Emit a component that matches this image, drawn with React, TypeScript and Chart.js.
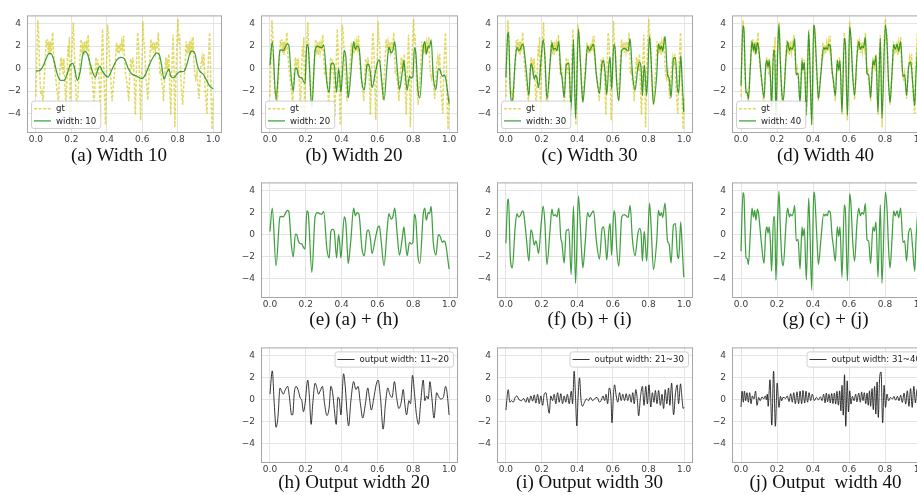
import React, { useEffect, useRef } from "react";
import { Chart, registerables } from "chart.js";
Chart.register(...registerables);

// ---------- tick labels / axis ranges ----------
const X_TICKS = [0, 0.2, 0.4, 0.6, 0.8, 1.0];
const Y_TICKS = [-4, -2, 0, 2, 4];
const X_MIN = -0.05, X_MAX = 1.05, Y_MIN = -5.72, Y_MAX = 4.72;

// ---------- series (x, y) ----------
const gt = [[0,-2.5],[0.006,1.5],[0.011,4.3],[0.016,3.0],[0.022,-0.5],[0.028,-2.3],[0.034,-2.0],[0.041,-3.0],[0.047,-1.0],[0.052,0.3],[0.058,2.5],[0.062,2.0],[0.066,2.6],[0.07,1.4],[0.074,2.4],[0.079,1.2],[0.083,2.4],[0.087,1.5],[0.091,2.6],[0.095,3.2],[0.099,1.5],[0.106,0.0],[0.113,-1.0],[0.12,-2.0],[0.127,-3.0],[0.133,-1.0],[0.138,0.4],[0.142,1.0],[0.146,0.0],[0.15,0.8],[0.154,-0.6],[0.158,0.9],[0.163,-0.9],[0.17,-3.6],[0.176,-0.5],[0.181,2.0],[0.185,1.0],[0.189,2.8],[0.194,-4.2],[0.2,0.5],[0.205,2.0],[0.211,4.1],[0.216,2.0],[0.222,-0.5],[0.228,-2.8],[0.235,-3.0],[0.242,-1.0],[0.25,1.2],[0.255,2.6],[0.26,1.3],[0.265,2.3],[0.27,1.2],[0.275,2.4],[0.28,1.5],[0.285,2.2],[0.29,1.6],[0.295,3.0],[0.3,1.0],[0.306,-0.6],[0.312,0.0],[0.318,-0.8],[0.328,-3.3],[0.334,-1.0],[0.339,1.0],[0.344,-0.4],[0.349,0.8],[0.353,0.2],[0.358,-1.5],[0.363,-4.3],[0.37,0.5],[0.376,3.5],[0.382,0.5],[0.387,-2.0],[0.393,-5.0],[0.399,0.0],[0.404,3.9],[0.409,3.2],[0.415,1.0],[0.422,-0.8],[0.43,-2.9],[0.437,-1.5],[0.444,-0.3],[0.45,1.0],[0.455,2.3],[0.46,1.4],[0.465,2.1],[0.47,1.3],[0.475,2.2],[0.48,1.5],[0.485,2.4],[0.49,1.8],[0.495,2.9],[0.5,1.0],[0.506,-0.5],[0.513,-1.2],[0.519,-2.0],[0.524,-2.9],[0.53,-0.5],[0.535,0.9],[0.539,0.0],[0.543,0.3],[0.547,1.0],[0.551,0.3],[0.556,-1.5],[0.561,-4.1],[0.567,0.0],[0.574,3.2],[0.58,2.0],[0.585,-1.0],[0.591,-4.6],[0.597,-0.5],[0.604,4.2],[0.608,2.5],[0.613,2.0],[0.62,-0.8],[0.626,-1.5],[0.631,-2.8],[0.637,-1.0],[0.644,1.2],[0.649,2.6],[0.654,1.6],[0.659,2.3],[0.664,1.4],[0.669,2.3],[0.674,1.5],[0.68,2.4],[0.685,1.8],[0.691,3.2],[0.696,1.0],[0.7,-0.5],[0.705,0.0],[0.709,-1.0],[0.715,-1.6],[0.72,-2.9],[0.727,-0.5],[0.733,1.0],[0.737,0.0],[0.741,0.5],[0.746,-0.2],[0.75,1.3],[0.755,-1.5],[0.761,-4.1],[0.768,0.5],[0.774,3.0],[0.779,0.0],[0.784,-5.2],[0.79,-1.0],[0.796,2.5],[0.802,4.4],[0.807,2.2],[0.811,3.0],[0.816,0.0],[0.82,-1.5],[0.828,-3.2],[0.834,-1.5],[0.839,-0.5],[0.844,1.0],[0.848,2.4],[0.853,1.3],[0.858,2.2],[0.863,1.4],[0.867,2.4],[0.872,1.2],[0.876,2.3],[0.881,1.8],[0.887,2.8],[0.892,0.5],[0.897,-0.5],[0.902,-0.9],[0.909,-0.3],[0.914,-1.5],[0.92,-2.7],[0.926,-1.0],[0.931,0.3],[0.937,1.0],[0.943,0.2],[0.948,1.3],[0.954,-1.6],[0.96,-3.0],[0.965,-4.0],[0.97,-0.5],[0.975,1.5],[0.98,3.2],[0.985,0.5],[0.99,-3.5],[0.995,-5.4],[1.0,-2.5]];

const w10 = [[0,-0.2],[0.019,-0.2],[0.037,0.1],[0.056,0.8],[0.075,1.35],[0.088,1.3],[0.103,0.65],[0.121,-0.5],[0.14,-1.05],[0.159,-1.05],[0.174,-0.6],[0.196,0.37],[0.209,0.45],[0.219,-0.05],[0.234,-1.05],[0.249,-0.35],[0.267,1.35],[0.28,1.5],[0.293,1.2],[0.312,0.08],[0.336,-0.76],[0.35,-0.06],[0.361,0.22],[0.374,-0.2],[0.393,-0.62],[0.406,-0.76],[0.43,-0.06],[0.458,0.8],[0.48,1.0],[0.5,0.85],[0.523,-0.06],[0.542,-0.48],[0.57,-0.68],[0.598,-0.9],[0.617,-0.56],[0.641,0.37],[0.664,1.07],[0.682,1.4],[0.697,1.2],[0.71,0.22],[0.723,-0.95],[0.735,-0.5],[0.75,-0.05],[0.762,-0.7],[0.776,-0.82],[0.795,-0.5],[0.813,-0.28],[0.835,-0.26],[0.852,0.37],[0.869,1.35],[0.882,1.58],[0.897,1.35],[0.91,0.37],[0.922,-0.17],[0.946,-0.55],[0.963,-1.05],[0.981,-1.55],[1.0,-1.79]];

const w20 = [[0,0.29],[0.013,2.4],[0.034,-2.8],[0.056,1.6],[0.065,1.65],[0.075,1.6],[0.084,1.85],[0.097,2.2],[0.105,2.1],[0.12,-1.0],[0.13,-2.0],[0.142,0.05],[0.15,0.0],[0.159,-0.6],[0.168,-0.8],[0.178,-0.83],[0.187,-1.15],[0.196,-1.3],[0.206,2.15],[0.213,2.0],[0.234,-3.4],[0.252,1.6],[0.265,2.0],[0.277,1.9],[0.29,1.85],[0.3,2.1],[0.318,-1.3],[0.331,-2.1],[0.34,0.3],[0.35,0.5],[0.359,0.3],[0.372,-2.1],[0.383,0],[0.389,-0.7],[0.396,-2.1],[0.415,1.6],[0.424,1.0],[0.434,-2.0],[0.437,-2.6],[0.452,-0.4],[0.467,2.4],[0.477,1.7],[0.486,2.0],[0.497,1.85],[0.514,-1.3],[0.527,-1.9],[0.542,0.3],[0.551,0.4],[0.561,-0.4],[0.57,-1.7],[0.589,-0.3],[0.604,0.7],[0.611,0.77],[0.62,-0.4],[0.637,-2.8],[0.654,0.4],[0.664,1.9],[0.677,1.4],[0.686,1.6],[0.697,2.4],[0.71,0.14],[0.723,-1.85],[0.738,-0.43],[0.748,0.7],[0.753,0],[0.766,-1.9],[0.779,-0.7],[0.789,-0.85],[0.798,-0.7],[0.807,1.85],[0.815,1.3],[0.826,-1.85],[0.837,-2.6],[0.856,1.85],[0.865,2.4],[0.873,1.3],[0.884,2.0],[0.891,1.9],[0.9,2.55],[0.912,-0.7],[0.927,-1.85],[0.94,0],[0.95,-0.14],[0.963,-0.7],[0.972,-0.57],[0.981,-0.85],[1.0,-3.1]];

const w30 = [[0,-0.77],[0.011,3.15],[0.015,3.2],[0.024,-1.85],[0.036,-3.0],[0.052,0.7],[0.062,1.9],[0.071,1.6],[0.08,1.7],[0.093,2.15],[0.099,2.0],[0.114,-0.14],[0.129,-2.4],[0.14,0.43],[0.148,0.14],[0.159,-0.94],[0.168,-0.57],[0.174,-0.86],[0.183,-1.7],[0.198,1.0],[0.209,2.57],[0.219,1.0],[0.23,-2.7],[0.249,0.7],[0.258,2.3],[0.267,1.7],[0.277,1.8],[0.286,1.6],[0.297,2.4],[0.308,-0.3],[0.314,-0.7],[0.327,-2.57],[0.338,0.3],[0.346,0.43],[0.353,0.5],[0.366,-3.6],[0.379,2.57],[0.391,-4.4],[0.407,3.5],[0.417,1.0],[0.426,-1.85],[0.432,-3.0],[0.445,-0.7],[0.458,2.0],[0.469,1.6],[0.48,1.9],[0.492,2.15],[0.507,-0.43],[0.525,-2.2],[0.54,0.57],[0.548,0.7],[0.557,-0.43],[0.566,-2.3],[0.578,0.43],[0.585,1.0],[0.593,-1.85],[0.606,2.15],[0.613,1.7],[0.622,-1.3],[0.634,-2.85],[0.65,1.6],[0.664,1.8],[0.675,1.7],[0.686,1.55],[0.697,2.65],[0.71,-0.43],[0.725,-1.9],[0.74,0],[0.75,0.57],[0.759,0],[0.766,-2.4],[0.776,0.3],[0.781,-0.43],[0.79,-2.4],[0.806,2.85],[0.815,0.7],[0.828,-3.15],[0.847,-0.43],[0.856,2.2],[0.865,1.7],[0.873,2.0],[0.88,1.55],[0.893,2.85],[0.907,-0.57],[0.916,-0.86],[0.927,-2.57],[0.94,0.86],[0.951,1.0],[0.963,-1.85],[0.97,-2.15],[0.981,1.15],[0.989,-1.0],[0.998,-3.85]];

const w40 = [[0,-1.5],[0.011,3.8],[0.016,3.57],[0.024,-0.7],[0.028,-2.1],[0.035,-2.15],[0.041,-2.7],[0.052,0.15],[0.061,2.4],[0.069,1.6],[0.076,2.2],[0.083,1.3],[0.091,2.3],[0.098,1.85],[0.113,-0.7],[0.128,-2.6],[0.137,0.15],[0.144,0.7],[0.15,0.14],[0.157,0.7],[0.163,-0.57],[0.17,-3.3],[0.181,1.6],[0.187,1.6],[0.194,-4.1],[0.204,1.6],[0.211,3.9],[0.219,0.4],[0.228,-2.4],[0.235,-2.8],[0.25,1.0],[0.259,2.4],[0.269,1.6],[0.274,1.85],[0.283,1.7],[0.293,2.15],[0.298,2.65],[0.307,-0.57],[0.317,-0.43],[0.328,-3.1],[0.339,0.7],[0.344,-0.14],[0.352,0.57],[0.363,-4.1],[0.376,3.3],[0.383,0.3],[0.393,-5.0],[0.404,3.85],[0.409,3.57],[0.422,-0.43],[0.43,-2.7],[0.444,-0.43],[0.459,1.85],[0.465,1.7],[0.472,1.85],[0.48,1.7],[0.487,2.15],[0.496,2.0],[0.506,-0.14],[0.513,-1.0],[0.524,-2.4],[0.535,0.7],[0.543,-0.14],[0.55,0.7],[0.561,-3.85],[0.574,2.7],[0.58,2.15],[0.591,-4.15],[0.604,3.7],[0.611,2.7],[0.62,-0.43],[0.631,-2.4],[0.644,1.0],[0.654,2.4],[0.663,1.7],[0.672,2.0],[0.681,1.85],[0.691,2.8],[0.7,-0.43],[0.709,-0.57],[0.72,-2.6],[0.733,0.7],[0.741,0.3],[0.75,1.15],[0.761,-3.85],[0.774,2.7],[0.783,-4.4],[0.802,3.85],[0.811,2.4],[0.82,-1.3],[0.828,-3.0],[0.839,-0.43],[0.848,2.15],[0.857,1.7],[0.867,2.15],[0.876,1.55],[0.887,2.4],[0.9,-0.7],[0.909,-0.57],[0.92,-2.4],[0.931,0.14],[0.943,0.57],[0.954,-1.3],[0.965,-3.3],[0.972,-0.5],[0.979,1.3],[0.985,2.9],[0.991,-0.8],[0.997,-4.0],[1.0,-4.5]];

const out20 = [[0,0.5],[0.013,2.6],[0.024,-0.37],[0.034,-2.5],[0.045,-1.5],[0.056,1.05],[0.065,0.77],[0.075,0.5],[0.084,0.83],[0.099,1.2],[0.108,0.34],[0.121,-1.37],[0.127,-1.37],[0.136,0.63],[0.146,1.2],[0.159,0.77],[0.168,0.2],[0.178,-0.09],[0.187,-1.09],[0.196,-0.37],[0.211,1.77],[0.22,0.34],[0.23,-2.23],[0.239,-0.37],[0.252,1.49],[0.262,1.06],[0.271,0.49],[0.28,0.77],[0.293,1.2],[0.305,-0.37],[0.318,-1.43],[0.331,-0.66],[0.34,1.2],[0.35,0.63],[0.359,-0.8],[0.37,-2.23],[0.379,0.2],[0.387,0.06],[0.396,-1.37],[0.411,2.34],[0.421,1.06],[0.43,-1.09],[0.439,-2.37],[0.452,-0.09],[0.467,1.63],[0.48,0.91],[0.492,1.2],[0.505,-0.37],[0.518,-1.66],[0.533,-0.37],[0.546,1.06],[0.555,0.2],[0.566,-0.94],[0.579,0.06],[0.593,1.34],[0.604,1.77],[0.617,0.2],[0.632,-2.66],[0.645,-0.37],[0.658,1.06],[0.669,0.49],[0.682,0.2],[0.695,1.63],[0.707,0.2],[0.72,-0.8],[0.733,-0.23],[0.744,0.91],[0.753,-0.37],[0.763,-1.37],[0.776,-0.09],[0.785,-0.37],[0.796,2.2],[0.806,0.77],[0.817,-1.23],[0.83,-2.23],[0.841,-0.37],[0.856,1.77],[0.865,-0.09],[0.875,0.34],[0.884,0.06],[0.893,1.63],[0.903,0.34],[0.916,-1.66],[0.931,0.63],[0.94,0.34],[0.953,0.06],[0.968,0.2],[0.981,1.2],[0.99,0.49],[1.0,-1.37]];

const out30 = [[0,-0.95],[0.013,0.9],[0.022,-0.23],[0.032,-0.09],[0.041,-0.23],[0.052,0.2],[0.061,0.34],[0.075,-0.03],[0.088,-0.09],[0.099,0.11],[0.112,-0.23],[0.121,0.2],[0.13,-0.26],[0.14,0.34],[0.15,-0.14],[0.159,0.43],[0.168,-0.31],[0.178,0.49],[0.187,-0.37],[0.196,0.34],[0.206,-0.51],[0.215,0.49],[0.224,0.63],[0.234,-0.37],[0.243,-1.23],[0.252,0.34],[0.262,-0.09],[0.271,0.49],[0.28,-0.37],[0.29,0.63],[0.299,-0.23],[0.308,0.54],[0.318,-0.37],[0.327,0.34],[0.336,-0.23],[0.345,0.49],[0.355,-0.37],[0.367,0.77],[0.374,-0.37],[0.383,2.57],[0.39,0.49],[0.398,-2.37],[0.405,0.2],[0.413,1.97],[0.422,-0.09],[0.43,-0.6],[0.441,-0.23],[0.452,0.06],[0.463,-0.09],[0.474,0.2],[0.487,-0.09],[0.499,0.11],[0.512,0.2],[0.525,-0.23],[0.536,-0.03],[0.545,0.34],[0.554,-0.09],[0.562,0.49],[0.571,-0.37],[0.58,1.06],[0.59,0.06],[0.595,-2.09],[0.605,0.77],[0.61,1.34],[0.619,0.34],[0.628,-0.23],[0.638,0.63],[0.647,-0.09],[0.656,0.49],[0.666,-0.09],[0.675,0.54],[0.684,-0.09],[0.694,0.49],[0.703,-0.23],[0.712,0.63],[0.72,-0.37],[0.729,0.91],[0.738,-0.09],[0.745,-1.46],[0.755,0.2],[0.766,1.2],[0.775,-0.51],[0.785,1.2],[0.794,-0.37],[0.803,1.34],[0.813,-0.66],[0.822,0.63],[0.831,-0.23],[0.839,0.83],[0.848,-0.37],[0.857,0.83],[0.867,-0.51],[0.876,0.49],[0.885,-0.8],[0.894,0.91],[0.903,-0.37],[0.913,1.06],[0.92,-0.51],[0.93,1.49],[0.941,-1.37],[0.952,0.63],[0.961,1.34],[0.969,-0.37],[0.98,1.43],[0.987,0.34],[0.995,-0.8],[1.0,-0.7]];

const out40 = [[0,-0.66],[0.006,0.77],[0.013,-0.23],[0.019,0.77],[0.026,-0.09],[0.033,0.63],[0.041,-0.23],[0.048,0.63],[0.056,-0.37],[0.063,0.34],[0.072,0.06],[0.081,0.77],[0.089,-0.51],[0.098,0.2],[0.107,-0.09],[0.117,0.26],[0.126,0.06],[0.135,0.34],[0.141,0.0],[0.146,0.5],[0.151,-0.6],[0.161,1.8],[0.171,-2.3],[0.181,2.57],[0.191,-2.4],[0.201,1.5],[0.211,-0.7],[0.219,0.3],[0.226,-0.1],[0.233,0.2],[0.239,0.2],[0.248,0.11],[0.257,0.34],[0.267,-0.17],[0.276,0.54],[0.285,-0.23],[0.293,0.63],[0.302,-0.37],[0.311,0.71],[0.32,-0.37],[0.328,0.77],[0.337,-0.37],[0.344,0.83],[0.354,-0.31],[0.361,0.77],[0.37,-0.23],[0.378,0.63],[0.387,-0.09],[0.396,0.49],[0.407,-0.09],[0.419,0.2],[0.43,-0.03],[0.441,0.26],[0.45,-0.09],[0.459,0.49],[0.467,-0.3],[0.474,0.6],[0.481,-0.2],[0.489,0.5],[0.496,-0.3],[0.504,0.55],[0.511,-0.35],[0.519,0.6],[0.526,-0.4],[0.533,0.75],[0.541,-0.5],[0.548,0.8],[0.555,-1.0],[0.561,1.3],[0.568,-1.4],[0.575,2.25],[0.582,-2.4],[0.59,1.7],[0.597,-1.1],[0.604,0.8],[0.611,-0.4],[0.619,0.3],[0.628,-0.1],[0.637,0.5],[0.644,-0.2],[0.654,0.6],[0.663,-0.23],[0.67,0.7],[0.678,-0.09],[0.685,0.63],[0.693,-0.37],[0.7,0.6],[0.707,-0.5],[0.714,0.8],[0.72,-0.6],[0.728,1.0],[0.735,-0.9],[0.742,1.2],[0.749,-1.3],[0.756,1.6],[0.763,-1.6],[0.77,1.9],[0.778,2.5],[0.787,-2.1],[0.795,1.3],[0.803,-0.7],[0.811,0.5],[0.82,-0.1],[0.831,0.2],[0.841,0.06],[0.85,0.3],[0.859,-0.05],[0.869,0.3],[0.878,-0.1],[0.887,0.4],[0.896,-0.25],[0.906,0.6],[0.915,-0.4],[0.924,0.8],[0.933,-0.6],[0.942,1.0],[0.951,-0.7],[0.96,1.2],[0.969,-0.3],[0.978,0.9],[0.988,-0.2],[1.0,0.5]];

// ---------- labels ----------
const CAPTIONS = ["(a) Width 10", "(b) Width 20", "(c) Width 30", "(d) Width 40", "(e) (a) + (h)", "(f) (b) + (i)", "(g) (c) + (j)", "(h) Output width 20", "(i) Output width 30", "(j) Output  width 40"];
const LEGEND_OUT = ["width: 10", "width: 20", "width: 30", "width: 40"];
const LEGEND_RES = ["output width: 11~20", "output width: 21~30", "output width: 31~40"];

// ---------- layout ----------
const COL_LEFT = [27, 261, 497, 732];
const COL_W = [195, 197, 196, 198];
const ROW_TOP = [10, 177, 342];
const ROW_H = [123, 121, 121];
const CAP_Y = [155, 319, 482];
const YW = 27, TP = 6, RP = 8, XH = 16;

const STYLE: any = {
  gt: { color: "rgba(205,195,0,0.62)", width: 1.5, dash: [3, 1.6], tension: 0 },
  green: { color: "rgba(0,128,0,0.75)", width: 1.25, dash: [], tension: 0.3 },
  black: { color: "rgba(20,20,20,0.85)", width: 1.0, dash: [], tension: 0.3 },
};

type S = { kind: string; pts: number[][]; label?: string };

function makeFrame() {
  return {
    id: "frame",
    afterDatasetsDraw(chart: any) {
      const { ctx, chartArea: a } = chart;
      ctx.save();
      ctx.strokeStyle = "#a6a6a6";
      ctx.lineWidth = 1;
      ctx.strokeRect(a.left + 0.5, a.top + 0.5, a.right - a.left - 1, a.bottom - a.top - 1);
      ctx.restore();
    },
  };
}

function makeLegend(items: S[], pos: string) {
  return {
    id: "boxLegend",
    afterDraw(chart: any) {
      if (!items.length) return;
      const { ctx, chartArea: a } = chart;
      ctx.save();
      ctx.font = '8.6px "DejaVu Sans"';
      const padX = 3, lineLen = 17, gap = 5, rowH = 12.2, padY = 1.5;
      const tw = Math.max(...items.map((it) => ctx.measureText(it.label || "").width));
      const bw = padX + lineLen + gap + tw + padX + 1;
      const bh = items.length * rowH + padY * 2;
      let bx = a.left + 4, by = a.bottom - 5 - bh;
      if (pos === "tr") { bx = a.right - 5 - bw; by = a.top + 4; }
      ctx.beginPath();
      (ctx as any).roundRect(bx + 0.5, by + 0.5, bw, bh, 2.5);
      ctx.fillStyle = "rgba(255,255,255,0.85)";
      ctx.fill();
      ctx.strokeStyle = "#d0d0d0";
      ctx.lineWidth = 1;
      ctx.stroke();
      items.forEach((it, i) => {
        const st = STYLE[it.kind];
        const cy = by + padY + rowH * (i + 0.5) + 0.5;
        ctx.beginPath();
        ctx.setLineDash(st.dash);
        ctx.strokeStyle = st.color;
        ctx.lineWidth = st.width;
        ctx.moveTo(bx + padX, cy);
        ctx.lineTo(bx + padX + lineLen, cy);
        ctx.stroke();
        ctx.setLineDash([]);
        ctx.fillStyle = "#222";
        ctx.textBaseline = "middle";
        ctx.textAlign = "left";
        ctx.fillText(it.label || "", bx + padX + lineLen + gap, cy + 0.5);
      });
      ctx.restore();
    },
  };
}

function Panel({ col, row, series, legend }: { col: number; row: number; series: S[]; legend: string }) {
  const ref = useRef<HTMLCanvasElement>(null);
  const w = COL_W[col] + YW + RP;
  const h = ROW_H[row] + TP + XH;
  useEffect(() => {
    const chart = new Chart(ref.current!, {
      type: "line",
      data: {
        datasets: series.map((s, i) => {
          const st = STYLE[s.kind];
          return {
            label: s.label || "",
            data: s.pts.map(([x, y]) => ({ x, y })),
            borderColor: st.color,
            borderWidth: st.width,
            borderDash: st.dash,
            pointRadius: 0,
            tension: st.tension,
            cubicInterpolationMode: st.tension ? "monotone" : "default",
            fill: false,
            order: series.length - i,
          } as any;
        }),
      },
      options: {
        animation: false,
        responsive: false,
        devicePixelRatio: 1,
        events: [],
        layout: { padding: { left: 0, right: RP, top: TP, bottom: 0 }, autoPadding: false } as any,
        plugins: { legend: { display: false }, tooltip: { enabled: false } },
        scales: {
          x: {
            type: "linear",
            min: X_MIN,
            max: X_MAX,
            afterBuildTicks: (sc: any) => { sc.ticks = X_TICKS.map((v) => ({ value: v })); },
            afterFit: (sc: any) => { sc.height = XH; },
            ticks: { font: { family: "DejaVu Sans", size: 9 }, color: "#3c3c3c", padding: 1, maxRotation: 0, autoSkip: false, callback: (v: any) => Number(v).toFixed(1) },
            grid: { color: "#e4e4e4", lineWidth: 1, drawTicks: false },
            border: { display: false },
          },
          y: {
            type: "linear",
            min: Y_MIN,
            max: Y_MAX,
            afterBuildTicks: (sc: any) => { sc.ticks = Y_TICKS.map((v) => ({ value: v })); },
            afterFit: (sc: any) => { sc.width = YW; },
            ticks: { font: { family: "DejaVu Sans", size: 9 }, color: "#3c3c3c", padding: 6, autoSkip: false, callback: (v: any) => (Number(v) < 0 ? "\u2212" + Math.abs(Number(v)) : String(v)) },
            grid: { color: "#e4e4e4", lineWidth: 1, drawTicks: false },
            border: { display: false },
          },
        },
      } as any,
      plugins: [makeFrame(), makeLegend(series.filter((s) => s.label), legend)],
    });
    return () => chart.destroy();
  }, []);
  return (
    <canvas
      ref={ref}
      width={w}
      height={h}
      style={{ position: "absolute", left: COL_LEFT[col] - YW, top: ROW_TOP[row] - TP, width: w, height: h }}
    />
  );
}

function Caption({ col, row, text }: { col: number; row: number; text: string }) {
  const cx = COL_LEFT[col] + COL_W[col] / 2 - 5.5;
  return (
    <div
      style={{
        position: "absolute", left: cx - 120, top: CAP_Y[row] - 12, width: 240, height: 24, lineHeight: "24px",
        textAlign: "center", fontFamily: '"Liberation Serif", "Times New Roman", serif', fontSize: 19,
        color: "#111", whiteSpace: "pre",
      }}
    >
      {text}
    </div>
  );
}

const PANELS = [
  { col: 0, row: 0, legend: "bl", series: [{ kind: "gt", pts: gt, label: "gt" }, { kind: "green", pts: w10, label: LEGEND_OUT[0] }] },
  { col: 1, row: 0, legend: "bl", series: [{ kind: "gt", pts: gt, label: "gt" }, { kind: "green", pts: w20, label: LEGEND_OUT[1] }] },
  { col: 2, row: 0, legend: "bl", series: [{ kind: "gt", pts: gt, label: "gt" }, { kind: "green", pts: w30, label: LEGEND_OUT[2] }] },
  { col: 3, row: 0, legend: "bl", series: [{ kind: "gt", pts: gt, label: "gt" }, { kind: "green", pts: w40, label: LEGEND_OUT[3] }] },
  { col: 1, row: 1, legend: "", series: [{ kind: "green", pts: w20 }] },
  { col: 2, row: 1, legend: "", series: [{ kind: "green", pts: w30 }] },
  { col: 3, row: 1, legend: "", series: [{ kind: "green", pts: w40 }] },
  { col: 1, row: 2, legend: "tr", series: [{ kind: "black", pts: out20, label: LEGEND_RES[0] }] },
  { col: 2, row: 2, legend: "tr", series: [{ kind: "black", pts: out30, label: LEGEND_RES[1] }] },
  { col: 3, row: 2, legend: "tr", series: [{ kind: "black", pts: out40, label: LEGEND_RES[2] }] },
];

export default function App() {
  return (
    <div style={{ position: "absolute", left: 0, top: 0, width: 917, height: 495, overflow: "hidden", background: "#fff" }}>
      {PANELS.map((p, i) => (
        <React.Fragment key={i}>
          <Panel col={p.col} row={p.row} series={p.series} legend={p.legend} />
          <Caption col={p.col} row={p.row} text={CAPTIONS[i]} />
        </React.Fragment>
      ))}
    </div>
  );
}
